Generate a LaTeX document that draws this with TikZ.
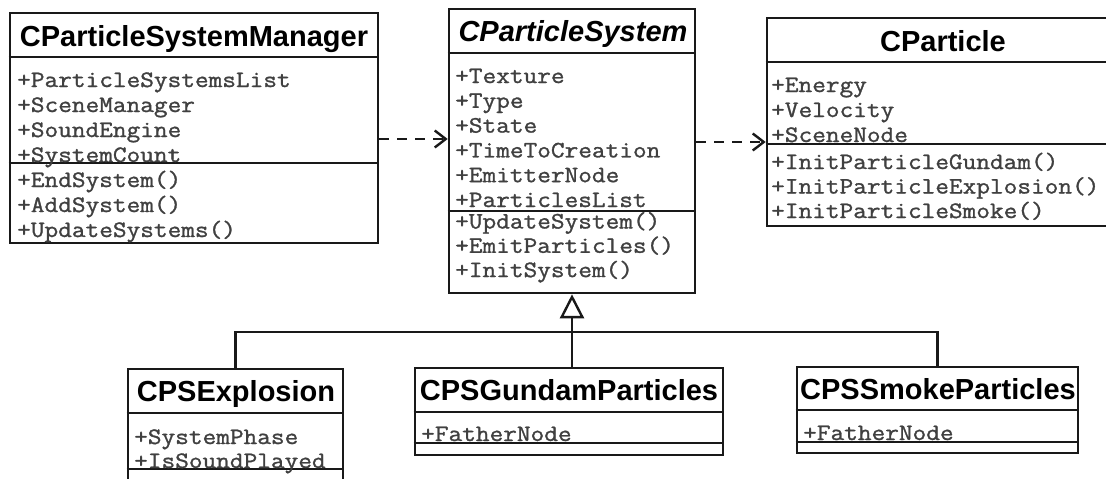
\documentclass[tikz,border=0pt]{standalone}
\usepackage{fontspec}
\newfontfamily\sansf{Liberation Sans}
\newfontfamily\monof{Latin Modern Mono}[FakeStretch=1.13, FakeBold=1.2]
\usetikzlibrary{arrows.meta}
\begin{document}
\begin{tikzpicture}[x=1pt,y=-1pt,
  classbox/.style={draw=black!90, line width=2.6pt, rectangle, inner sep=0pt, fill=white},
  title/.style={font=\sansf\bfseries\fontsize{29}{29}\selectfont, anchor=base, inner sep=0pt},
  member/.style={font=\monof\fontsize{23.5}{23.5}\selectfont, text=black!75, anchor=base west, inner sep=0pt},
  sepline/.style={line width=2.2pt, draw=black!90},
  dep/.style={dash pattern=on 10pt off 8pt, line width=2.4pt, draw=black!90,
    -{Straight Barb[length=11pt,width=17pt,line width=2.4pt]}},
  inh/.style={line width=2.6pt, draw=black!90},
  inhtip/.style={inh, -{Triangle[open, length=24pt, width=24pt, line width=2.4pt, fill=white]}}
]
\useasboundingbox (0,0) rectangle (1106,479);
\clip (0,0) rectangle (1106,479);

% class boxes
\node[classbox, minimum width=368pt, minimum height=230pt] (mgr) at (194,128) {};
\node[classbox, minimum width=246pt, minimum height=284pt] (ps) at (572,151) {};
\node[classbox, minimum width=352pt, minimum height=208pt] (cp) at (943,122) {};
\node[classbox, minimum width=215pt, minimum height=126pt] (ex) at (235.5,432) {};
\node[classbox, minimum width=308pt, minimum height=87pt] (gu) at (569,411.5) {};
\node[classbox, minimum width=281pt, minimum height=86pt] (sm) at (937.5,410) {};

% compartment separators
\draw[sepline] (mgr.west |- 0,57) -- (mgr.east |- 0,57);
\draw[sepline] (mgr.west |- 0,163) -- (mgr.east |- 0,163);
\draw[sepline] (ps.west |- 0,53) -- (ps.east |- 0,53);
\draw[sepline] (ps.west |- 0,211) -- (ps.east |- 0,211);
\draw[sepline] (cp.west |- 0,62) -- (cp.east |- 0,62);
\draw[sepline] (cp.west |- 0,144) -- (cp.east |- 0,144);
\draw[sepline] (ex.west |- 0,413) -- (ex.east |- 0,413);
\draw[sepline] (ex.west |- 0,469) -- (ex.east |- 0,469);
\draw[sepline] (gu.west |- 0,412) -- (gu.east |- 0,412);
\draw[sepline] (gu.west |- 0,443) -- (gu.east |- 0,443);
\draw[sepline] (sm.west |- 0,410) -- (sm.east |- 0,410);
\draw[sepline] (sm.west |- 0,442) -- (sm.east |- 0,442);

% titles
\node[title] (mgrT) at (194,46) {CParticleSystemManager};
\node[title, font=\sansf\bfseries\itshape\fontsize{29}{29}\selectfont] (psT) at (573,41.5) {CParticleSystem};
\node[title] (cpT) at (943,51.5) {CParticle};
\node[title] (exT) at (236,401) {CPSExplosion};
\node[title] (guT) at (569,400) {CPSGundamParticles};
\node[title] (smT) at (938,399) {CPSSmokeParticles};

% members
\foreach \t [count=\i] in {+ParticleSystemsList,+SceneManager,+SoundEngine,+SystemCount}
  \node[member] (mgrA\i) at (17,{87+25*(\i-1)}) {\t};
\foreach \t [count=\i] in {+EndSystem(),+AddSystem(),+UpdateSystems()}
  \node[member] (mgrM\i) at (17,{187+25*(\i-1)}) {\t};
\foreach \t [count=\i] in {+Texture,+Type,+State,+TimeToCreation,+EmitterNode,+ParticlesList}
  \node[member] (psA\i) at (455,{83+24.8*(\i-1)}) {\t};
\foreach \t [count=\i] in {+UpdateSystem(),+EmitParticles(),+InitSystem()}
  \node[member] (psM\i) at (455,{228.5+24.3*(\i-1)}) {\t};
\foreach \t [count=\i] in {+Energy,+Velocity,+SceneNode}
  \node[member] (cpA\i) at (771,{92+25*(\i-1)}) {\t};
\foreach \t [count=\i] in {+InitParticleGundam(),+InitParticleExplosion(),+InitParticleSmoke()}
  \node[member] (cpM\i) at (771,{169+24.5*(\i-1)}) {\t};
\node[member] (exA1) at (134,444) {+SystemPhase};
\node[member] (exA2) at (134,468) {+IsSoundPlayed};
\node[member] (guA1) at (421,441) {+FatherNode};
\node[member] (smA1) at (803,440) {+FatherNode};

% dependencies
\draw[dep] ([yshift=-11pt]mgr.east) -- ([yshift=-11pt]mgr.east -| ps.west);
\draw[dep] ([yshift=9pt]ps.east) -- ([yshift=9pt]ps.east -| cp.west);

% generalisation
\coordinate (bar) at (0,332);
\draw[inh] (ex.north) -- (ex.north |- bar) -- (sm.north |- bar) -- (sm.north);
\draw[inhtip] (gu.north -| ps.south) -- (ps.south);
\end{tikzpicture}
\end{document}
